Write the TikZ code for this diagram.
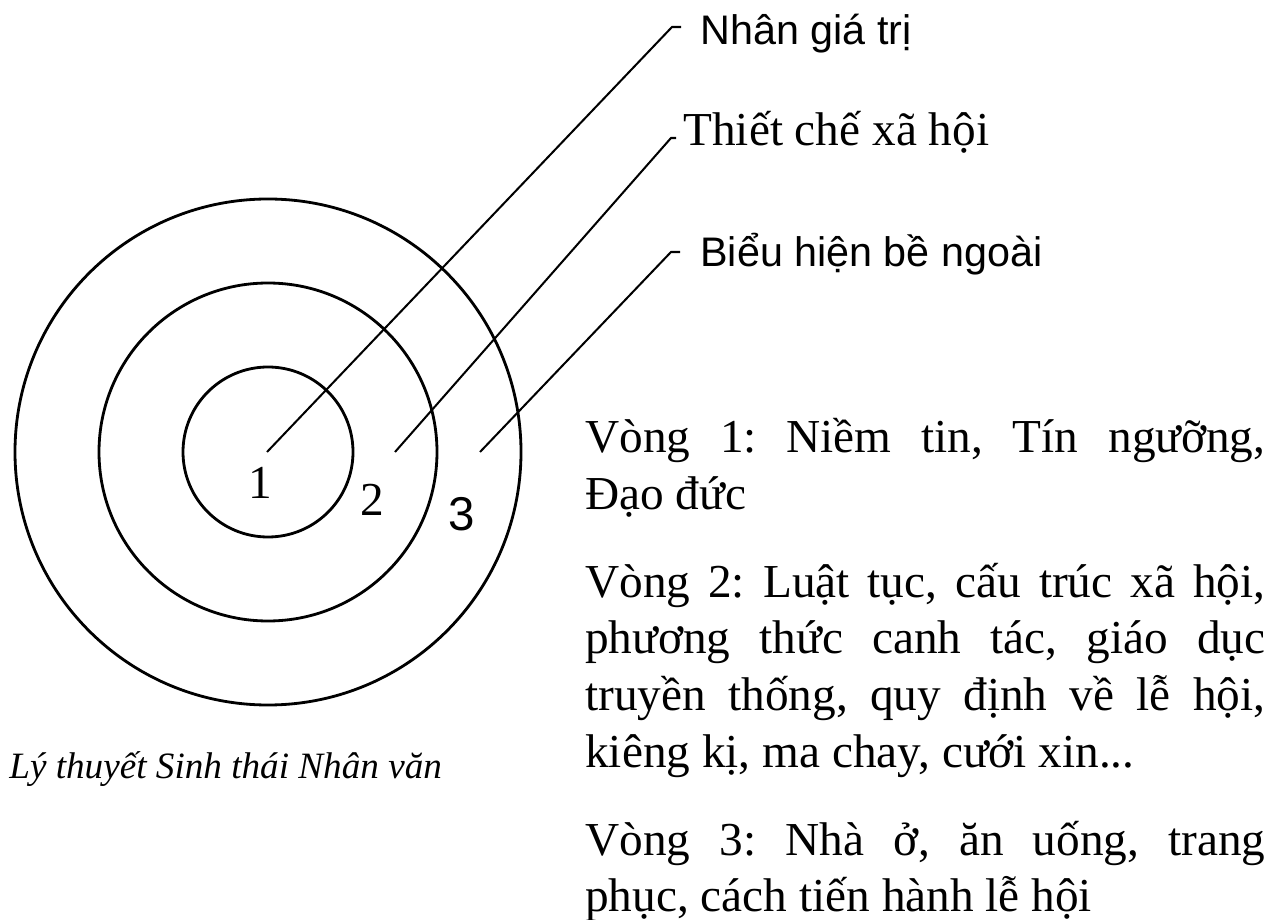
\documentclass[tikz,border=0pt]{standalone}
\usepackage{fontspec}
\setmainfont{Liberation Serif}
\setsansfont{Liberation Sans}
\usepackage{tikz}
\frenchspacing
\hyphenpenalty=10000
\exhyphenpenalty=10000
\hbadness=10000

\begin{document}
\begin{tikzpicture}[
  ring/.style={draw, circle, line width=1.6pt, inner sep=0pt},
  lead/.style={line width=1.15pt},
  sanslabel/.style={anchor=base west, inner sep=0pt, font=\sffamily\fontsize{23.5}{28}\selectfont},
  seriflabel/.style={anchor=base west, inner sep=0pt, font=\fontsize{26.9}{32.3}\selectfont},
  num/.style={anchor=base, inner sep=0pt, font=\fontsize{26.9}{32.3}\selectfont},
  desc/.style={anchor=base west, inner sep=0pt, text width=13.6cm, align=justify, font=\fontsize{26.9}{32.3}\selectfont}
]
\useasboundingbox (0,0) rectangle (25.4,-18.4);

% Rings
\node[ring, minimum size=3.40cm] (ring1) at (5.36,-9.04) {};
\node[ring, minimum size=6.76cm] (ring2) at (5.36,-9.04) {};
\node[ring, minimum size=10.12cm] (ring3) at (5.36,-9.04) {};

% Ring numbers
\node[num] (num1) at (5.20,-9.98) {1};
\node[num] (num2) at (7.44,-10.32) {2};
\node[num, font=\sffamily\fontsize{27}{32}\selectfont] (num3) at (9.24,-10.62) {3};

% Layer labels
\node[sanslabel] (core) at (14.00,-0.90) {Nhân giá trị};
\node[seriflabel] (inst) at (13.66,-2.92) {Thiết chế xã hội};
\node[sanslabel] (surf) at (14.00,-5.34) {Biểu hiện bề ngoài};

% Leader lines
\coordinate (s1) at (5.34,-9.04);
\coordinate (s2) at (7.90,-9.04);
\coordinate (s3) at (9.60,-9.04);
\coordinate (h1) at ([xshift=-0.38cm, yshift=0.36cm]core.base west);
\coordinate (h2) at ([xshift=-0.14cm, yshift=0.16cm]inst.base west);
\coordinate (h3) at ([xshift=-0.40cm, yshift=0.30cm]surf.base west);
\draw[lead] (s1) -- ([xshift=-0.18cm]h1) -- (h1);
\draw[lead] (s2) -- ([xshift=-0.10cm]h2) -- (h2);
\draw[lead] (s3) -- ([xshift=-0.18cm]h3) -- (h3);

% Caption
\node[anchor=base west, inner sep=0pt, font=\itshape\fontsize{21.15}{25}\selectfont] (caption) at (0.18,-15.56) {Lý thuyết Sinh thái Nhân văn};

% Ring descriptions
\node[desc] (desc1) at (11.70,-9.06) {Vòng 1: Niềm tin, Tín ngưỡng,\linebreak Đạo đức};
\node[desc] (desc2) at (11.70,-11.94) {Vòng 2: Luật tục, cấu trúc xã hội,\linebreak phương thức canh tác, giáo dục\linebreak truyền thống, quy định về lễ hội,\linebreak kiêng kị, ma chay, cưới xin...};
\node[desc] (desc3) at (11.70,-17.10) {Vòng 3: Nhà ở, ăn uống, trang\linebreak phục, cách tiến hành lễ hội};

\end{tikzpicture}
\end{document}
